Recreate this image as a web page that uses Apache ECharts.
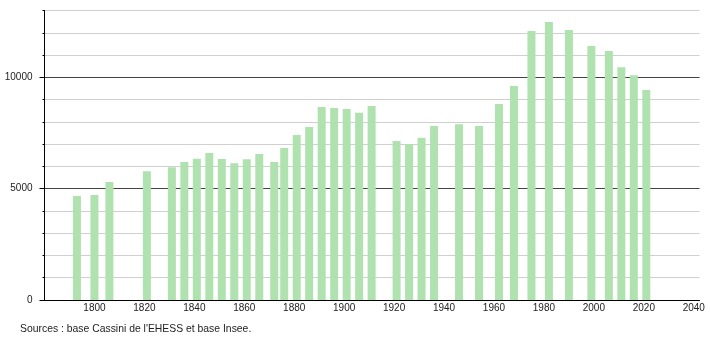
<!DOCTYPE html>
<html><head><meta charset="utf-8">
<script src="https://cdn.jsdelivr.net/npm/echarts@6/dist/echarts.min.js"></script>
<style>html,body{margin:0;padding:0;background:#fff}#c{width:710px;height:340px}</style>
</head><body><div id="c"></div>
<script>
const years = [1793,1800,1806,1821,1831,1836,1841,1846,1851,1856,1861,1866,1872,1876,1881,1886,1891,1896,1901,1906,1911,1921,1926,1931,1936,1946,1954,1962,1968,1975,1982,1990,1999,2006,2011,2016,2021];
const population = [4670,4715,5300,5780,5960,6200,6345,6600,6330,6145,6320,6555,6200,6825,7410,7770,8665,8620,8575,8410,8710,7140,7005,7290,7810,7890,7810,8800,9610,12080,12480,12120,11405,11180,10450,10090,9430];
const yearTicks = [1800,1820,1840,1860,1880,1900,1920,1940,1960,1980,2000,2020,2040];
const popTicks = [0,5000,10000];
const sourceText = "Sources : base Cassini de l'EHESS et base Insee.";

const chart = echarts.init(document.getElementById('c'), null, {renderer:'canvas'});
const font = 'Liberation Sans';
chart.setOption({
  animation:false,
  grid:{left:44.5, top:10.5, width:655, height:289.5},
  xAxis:{type:'value', min:1780, max:2042.3, interval:20,
    axisLine:{lineStyle:{color:'#000', width:1}},
    axisTick:{show:false}, splitLine:{show:false},
    axisLabel:{margin:3, fontSize:10, color:'#222', fontFamily:font,
      formatter: v => yearTicks.includes(v) ? String(v) : ''}},
  yAxis:[
    {type:'value', min:0, max:13000, interval:1000,
      axisLine:{show:true, lineStyle:{color:'#000'}},
      axisTick:{show:true, length:2, lineStyle:{color:'#000'}},
      axisLabel:{show:false},
      splitLine:{show:true, lineStyle:{color:'#cfcfcf'}}},
    {type:'value', position:'left', min:0, max:13000, interval:5000,
      axisLine:{show:false},
      axisTick:{show:true, length:5, customValues:popTicks, lineStyle:{color:'#000'}},
      axisLabel:{margin:12, fontSize:10, color:'#222', fontFamily:font, customValues:popTicks,
        formatter: v => String(v)},
      splitLine:{show:true, lineStyle:{color:'#444'}}}
  ],
  graphic:[{type:'text', left:20, top:324,
    style:{text:sourceText, font:'10.4px "Liberation Sans"', fill:'#222'}}],
  series:[{type:'bar', xAxisIndex:0, yAxisIndex:0, barWidth:8,
    data: years.map((y,i)=>[y,population[i]]),
    itemStyle:{color:'#b0e2b0'}}]
});
</script></body></html>
